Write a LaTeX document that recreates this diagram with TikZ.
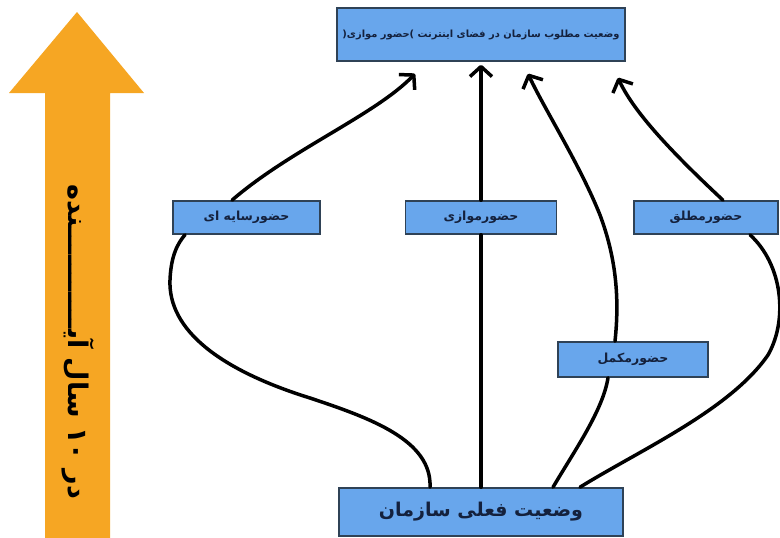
\documentclass[tikz,border=0pt]{standalone}
\usepackage{fontspec}
\usepackage{tikz}
\usetikzlibrary{arrows.meta, positioning}
\TeXXeTstate=1
\newfontfamily\farsi[Script=Arabic]{DejaVu Sans}
\definecolor{boxfill}{HTML}{68A6EC}
\definecolor{boxline}{HTML}{2F4256}
\definecolor{boxtext}{HTML}{14213D}
\definecolor{timeorange}{HTML}{F6A623}
\tikzstyle{box} = [rectangle, inner sep=0pt, draw=boxline, fill=boxfill, line width=1.6pt, text=boxtext, font=\farsi\bfseries\fontsize{12.5}{15}\selectfont]
\tikzstyle{link} = [line width=3.5pt, line cap=round]
\tikzstyle{arrow} = [line width=3.5pt, line cap=round, ->, >={Straight Barb[length=10pt, width=22pt, line join=round]}]

\begin{document}
\begin{tikzpicture}[x=1pt, y=-1pt]
\useasboundingbox (0,0) rectangle (780,538);
% time arrow on the left
\fill[timeorange] (45,538) -- (45,93) -- (9,93) -- (77,12) -- (144,93) -- (110,93) -- (110,538) -- cycle;
\node (time) at (78,342) [rotate=-90, text=black, font=\farsi\bfseries\fontsize{27}{31}\selectfont] {\beginR در \beginL ۱۰\endL{} سال آیـــــــــــنده\endR};
% Define nodes
\node (goal) [box, minimum width=288pt, minimum height=53pt, font=\farsi\bfseries\fontsize{9.9}{12}\selectfont] at (481,34.5) {\beginR وضعیت مطلوب سازمان در فضای اینترنت \hbox{)}حضور موازی\hbox{(}\endR};
\node (shadow) [box, minimum width=147pt, minimum height=33pt] at (246.5,217.5) {\beginR حضورسایه ای\endR};
\node (para) [box, minimum width=151pt, minimum height=33pt] at (481,217.5) {\beginR حضورموازی\endR};
\node (abs) [box, minimum width=144pt, minimum height=33pt] at (706,217.5) {\beginR حضورمطلق\endR};
\node (compl) [box, minimum width=150pt, minimum height=35pt] at (633,359.5) {\beginR حضورمکمل\endR};
\node (now) [box, minimum width=284pt, minimum height=48pt, font=\farsi\bfseries\fontsize{19}{23}\selectfont] at (481,512) {\beginR وضعیت فعلی سازمان\endR};
% Connect nodes with arrows
\draw [link] ([xshift=-51pt]now.north) .. controls (432,440) and (370,418) .. (310,398)
  .. controls (220,370) and (168,330) .. (170,280)
  .. controls (171,255) and (178,243) .. ([xshift=-61.5pt]shadow.south);
\draw [arrow] ([xshift=-14.5pt]shadow.north) .. controls (290,150) and (375,115) .. ([xshift=-66pt,yshift=-12pt]goal.south);
\draw [link] (now.north) -- (para.south);
\draw [arrow] (para.north) -- ([yshift=-3pt]goal.south);
\draw [link] ([xshift=72pt]now.north) .. controls (575,450) and (603,410) .. ([xshift=-25pt]compl.south);
\draw [arrow] ([xshift=-18pt]compl.north) .. controls (620,295) and (615,255) .. (600,215)
  .. controls (580,165) and (545,110) .. ([xshift=47pt,yshift=-12pt]goal.south);
\draw [link] ([xshift=99pt]now.north) .. controls (640,450) and (730,410) .. (768,355)
  .. controls (788,320) and (783,265) .. ([xshift=44pt]abs.south);
\draw [arrow] ([xshift=17pt]abs.north) .. controls (680,160) and (635,115) .. ([xshift=137pt,yshift=-16pt]goal.south);
\end{tikzpicture}
\end{document}
